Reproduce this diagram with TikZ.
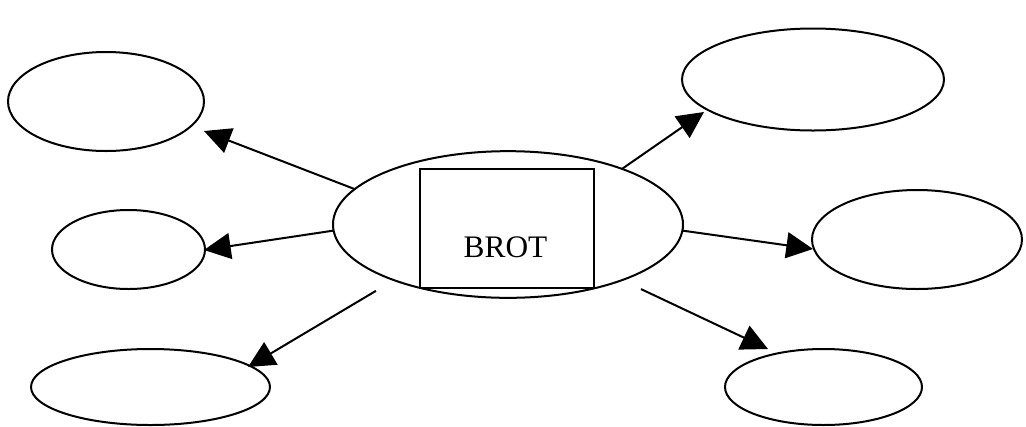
\documentclass[tikz,border=0pt]{standalone}
\usepackage{fontspec}
\setmainfont{Liberation Serif}
\usetikzlibrary{arrows.meta,shapes.geometric}

\begin{document}
\begin{tikzpicture}[x=0.75pt, y=-0.75pt,
  bubble/.style={ellipse, draw, line width=1.5pt, inner sep=0pt, outer sep=0pt},
  frame/.style={rectangle, draw, line width=1.5pt, inner sep=0pt,
                minimum width=130.5pt, minimum height=89.25pt},
  link/.style={line width=1.5pt, -{Triangle[length=20pt, width=19.5pt]}}
]
  \useasboundingbox (0,0) rectangle (1026,426);

  % central bubble with its framed label
  \node[bubble, minimum width=262.5pt, minimum height=110pt] (hub) at (508,224.5) {};
  \node[frame] (box) at (507,228.5) {};
  \node[anchor=base, inner sep=0pt, font=\fontsize{23.5}{28}\selectfont] (word) at (505.5,257) {BROT};

  % surrounding bubbles
  \node[bubble, minimum width=147pt,   minimum height=74.25pt] (tl) at (106,101.5) {};
  \node[bubble, minimum width=114.75pt,minimum height=59.25pt] (ml) at (128.5,249.5) {};
  \node[bubble, minimum width=179.25pt,minimum height=57pt]    (bl) at (150.5,387) {};
  \node[bubble, minimum width=196.5pt, minimum height=76.5pt]  (tr) at (813,79.5) {};
  \node[bubble, minimum width=157.5pt, minimum height=74.25pt] (mr) at (917,239.5) {};
  \node[bubble, minimum width=147.75pt,minimum height=57pt]    (br) at (823.5,387) {};

  % arrow tip points
  \coordinate (tlTip) at (204,131);
  \coordinate (mlTip) at (204,250);
  \coordinate (blTip) at (248,367);
  \coordinate (trTip) at (704,112);
  \coordinate (mrTip) at (813,249);
  \coordinate (brTip) at (768,349);

  % arrows from the hub
  \draw[link] (hub.167.2) -- (tlTip);
  \draw[link] (hub.182.1) -- (mlTip);
  \draw[link, shorten <=15.75pt] (hub.206.1) -- (blTip);
  \draw[link] (hub.26.4)  -- (trTip);
  \draw[link] (hub.-2.1)  -- (mrTip);
  \draw[link, shorten <=15.75pt] (hub.-26.9) -- (brTip);
\end{tikzpicture}
\end{document}
